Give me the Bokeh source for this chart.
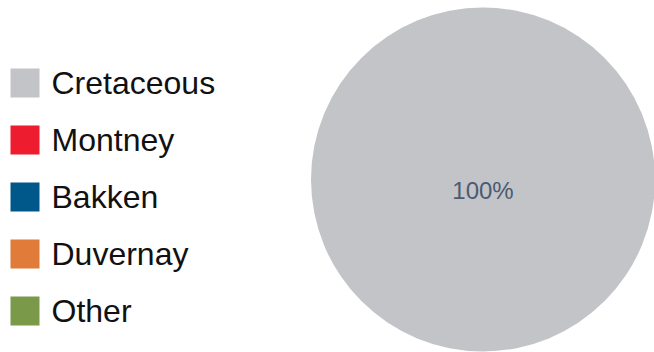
import math
from bokeh.plotting import figure
from bokeh.models import Range1d, ColumnDataSource
from bokeh.core.properties import value
from bokeh.embed import file_html
from bokeh.resources import INLINE

categories = ["Cretaceous", "Montney", "Bakken", "Duvernay", "Other"]
shares = [100, 0, 0, 0, 0]
colors = ["#c3c4c8", "#ed1c2e", "#00578a", "#e07b39", "#7a9a4a"]

W, H = 654, 352
CX, CY, R = 482.5, -179.0, 172.0

p = figure(width=W, height=H, output_backend="svg", toolbar_location=None,
           x_range=Range1d(0, W), y_range=Range1d(-H, 0), min_border=0)
p.axis.visible = False
p.grid.visible = False
p.outline_line_color = None
p.background_fill_color = "white"
p.border_fill_color = "white"

# pie wedges (clockwise from top), only non-empty slices
total = sum(shares)
starts, ends = [], []
a = math.pi / 2
for s in shares:
    starts.append(a)
    a = a - 2 * math.pi * s / total
    ends.append(a)

part = [i for i, s in enumerate(shares) if 0 < s < total]
full = [i for i, s in enumerate(shares) if s >= total]

if part:
    src = ColumnDataSource(dict(color=[colors[i] for i in part],
                                start=[starts[i] for i in part],
                                end=[ends[i] for i in part]))
    p.wedge(x=CX, y=CY, radius=R, start_angle="end", end_angle="start",
            fill_color="color", line_color=None, source=src)
for i in full:
    p.circle(x=[CX], y=[CY], radius=R, fill_color=colors[i], line_color=None)

# slice labels
lx, ly, lt = [], [], []
for i in part + full:
    s, st, en = shares[i], starts[i], ends[i]
    mid = (st + en) / 2
    rr = 0 if s >= total else 0.6 * R
    lx.append(CX + rr * math.cos(mid))
    ly.append(CY + rr * math.sin(mid))
    lt.append(f"{s}%")
p.text(x=lx, y=ly, text=lt, text_align="center", text_baseline="middle",
       y_offset=11, text_font=value("Liberation Sans"), text_font_size="24px",
       text_color="#4b5b72")

# legend
step = 57
ys = [-(82.5 + i * step) for i in range(len(categories))]
p.rect(x=[24.5] * len(categories), y=ys, width=29, height=29,
       width_units="screen", height_units="screen",
       fill_color=colors, line_color=None)
p.text(x=[51] * len(categories), y=ys, text=categories, text_align="left",
       text_baseline="middle", text_font=value("Liberation Sans"),
       text_font_size="32px", text_color="#111111")

open("out.html", "w").write(file_html(p, INLINE))
